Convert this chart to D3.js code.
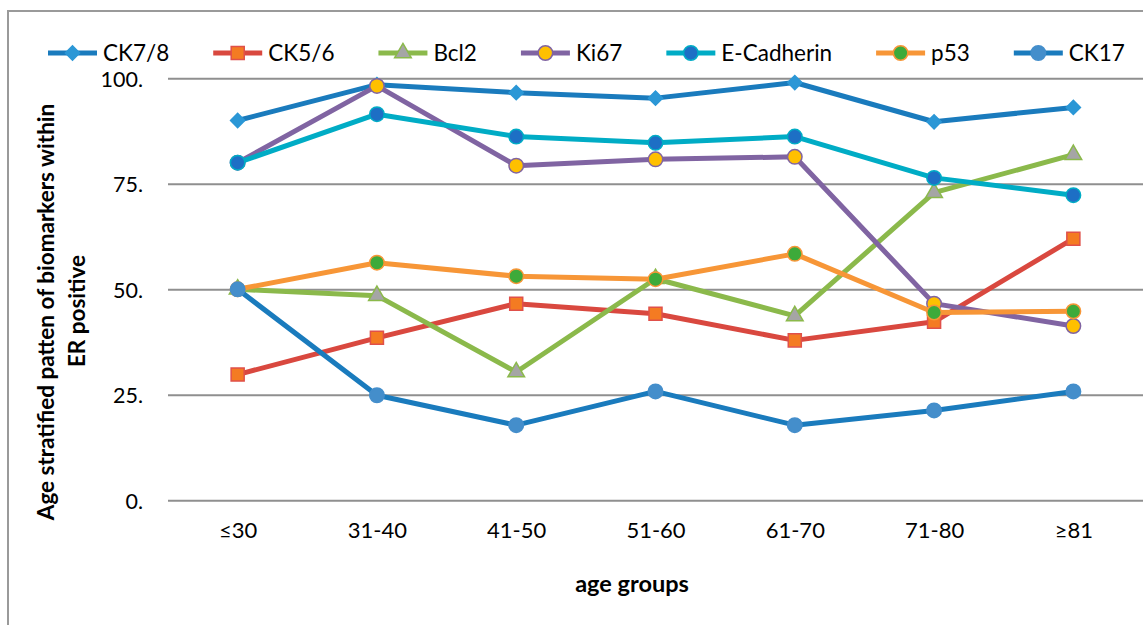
<!DOCTYPE html>
<html>
<head>
<meta charset="utf-8">
<script src="https://cdn.jsdelivr.net/npm/d3@7"></script>
<style>
  body { margin: 0; background: #fff; }
  text { font-family: Lato, "Open Sans", sans-serif; fill: #000; }
</style>
</head>
<body>
<div id="main"></div>
<script>

// data
var ageGroups = ["≤30", "31-40", "41-50", "51-60", "61-70", "71-80", "≥81"];
var seriesNames = ["CK7/8", "CK5/6", "Bcl2", "Ki67", "E-Cadherin", "p53", "CK17"];
var ck78 = [90.0, 98.5, 96.6, 95.3, 99.0, 89.7, 93.1];
var ck56 = [29.8, 38.5, 46.6, 44.2, 37.9, 42.3, 62.0];
var bcl2 = [50.0, 48.5, 30.4, 52.5, 43.7, 72.9, 81.9];
var ki67 = [80.0, 98.2, 79.3, 80.8, 81.4, 46.6, 41.3];
var ecad = [80.0, 91.5, 86.2, 84.7, 86.2, 76.4, 72.3];
var p53 = [50.0, 56.3, 53.1, 52.4, 58.4, 44.5, 44.8];
var ck17 = [50.0, 24.9, 17.8, 25.8, 17.8, 21.3, 25.8];
var yTicks = [0, 25, 50, 75, 100];

const w = 1143;
const h = 625;

// line colour, marker fill, marker stroke, marker shape
var styles = [
    {line: "#1a7bbd", fill: "#2b97d6", stroke: "#2b97d6", shape: d3.symbolSquare, size: 100, rot: 45},
    {line: "#d9483f", fill: "#f47b22", stroke: "#e0504a", shape: d3.symbolSquare, size: 170, rot: 0},
    {line: "#8bb94b", fill: "#a5a5a5", stroke: "#8bb94b", shape: d3.symbolTriangle, size: 120, rot: 0},
    {line: "#8064a2", fill: "#ffc000", stroke: "#8064a2", shape: d3.symbolCircle, size: 165, rot: 0},
    {line: "#00acc5", fill: "#1d6fc5", stroke: "#00acc5", shape: d3.symbolCircle, size: 165, rot: 0},
    {line: "#f79637", fill: "#3daa3a", stroke: "#f79637", shape: d3.symbolCircle, size: 165, rot: 0},
    {line: "#1a7bbd", fill: "#448ecb", stroke: "#448ecb", shape: d3.symbolCircle, size: 165, rot: 0}
];

var allValues = [ck78, ck56, bcl2, ki67, ecad, p53, ck17];
var series = seriesNames.map(function (name, i) {
    return {name: name, values: allValues[i], style: styles[i]};
});

const xScale = d3.scalePoint()
    .domain(ageGroups)
    .range([168, 1143])
    .padding(0.5);

const yScale = d3.scaleLinear()
    .domain([0, 100])
    .range([500.3, 78.3]);

const svg = d3.select("#main").append("svg").attr("width", w).attr("height", h);

// outer frame of the chart
svg.append("rect")
    .attr("x", 8)
    .attr("y", 11)
    .attr("width", w + 20)
    .attr("height", h + 20)
    .attr("fill", "none")
    .attr("stroke", "#9a9a9a")
    .attr("stroke-width", 2);

// gridlines + y labels
const yAxis = d3.axisLeft(yScale)
    .tickValues(yTicks)
    .tickSize(-(1143 - 168))
    .tickPadding(25)
    .tickFormat(d => d + ".");

svg.append("g")
    .attr("id", "y-axis")
    .attr("transform", "translate(168,0)")
    .call(yAxis)
    .call(g => g.select(".domain").remove())
    .call(g => g.selectAll(".tick line").attr("stroke", "#8f8f8f").attr("stroke-width", 2))
    .call(g => g.selectAll(".tick text").style("font-size", "21.5px").attr("x", -25).attr("dy", "0.36em"));

// x labels
const xAxis = d3.axisBottom(xScale).tickSize(0).tickPadding(22);
svg.append("g")
    .attr("id", "x-axis")
    .attr("transform", "translate(0,500)")
    .call(xAxis)
    .call(g => g.select(".domain").remove())
    .call(g => g.selectAll(".tick text").style("font-size", "22px").attr("dy", "0.71em"));

// lines and markers
const line = d3.line()
    .x((d, i) => xScale(ageGroups[i]))
    .y(d => yScale(d));

series.forEach(function (s) {
    var g = svg.append("g").attr("class", "series");
    g.append("path")
        .datum(s.values)
        .attr("d", line)
        .attr("fill", "none")
        .attr("stroke", s.style.line)
        .attr("stroke-width", 5)
        .attr("stroke-linejoin", "round");
    g.selectAll("path.marker")
        .data(s.values)
        .enter()
        .append("path")
        .attr("class", "marker")
        .attr("d", d3.symbol().type(s.style.shape).size(s.style.size))
        .attr("transform", (d, i) => "translate(" + xScale(ageGroups[i]) + "," + yScale(d) + ") rotate(" + s.style.rot + ")")
        .attr("fill", s.style.fill)
        .attr("stroke", s.style.stroke)
        .attr("stroke-width", 1.5);
});

// legend
var legend = svg.append("g").attr("class", "legend");
var lx = 48;
series.forEach(function (s) {
    var item = legend.append("g").attr("transform", "translate(" + lx + ",53)");
    item.append("line")
        .attr("x1", 0).attr("x2", 49)
        .attr("stroke", s.style.line)
        .attr("stroke-width", 5);
    item.append("path")
        .attr("d", d3.symbol().type(s.style.shape).size(s.style.size))
        .attr("transform", "translate(24.5,0) rotate(" + s.style.rot + ")")
        .attr("fill", s.style.fill)
        .attr("stroke", s.style.stroke)
        .attr("stroke-width", 1.5);
    var t = item.append("text")
        .attr("x", 55)
        .attr("dy", "0.34em")
        .style("font-size", "22.5px")
        .text(s.name);
    lx += 55 + t.node().getComputedTextLength() + 44;
});

// axis titles
svg.append("text")
    .attr("transform", "translate(54,312) rotate(-90)")
    .style("text-anchor", "middle")
    .style("font-size", "22.5px")
    .style("font-weight", "bold")
    .text("Age stratified patten of biomarkers within");

svg.append("text")
    .attr("transform", "translate(85,311) rotate(-90)")
    .style("text-anchor", "middle")
    .style("font-size", "22.5px")
    .style("font-weight", "bold")
    .text("ER positive");

svg.append("text")
    .attr("x", 632)
    .attr("y", 592)
    .style("text-anchor", "middle")
    .style("font-size", "23.5px")
    .style("font-weight", "bold")
    .text("age groups");

</script>
</body>
</html>
